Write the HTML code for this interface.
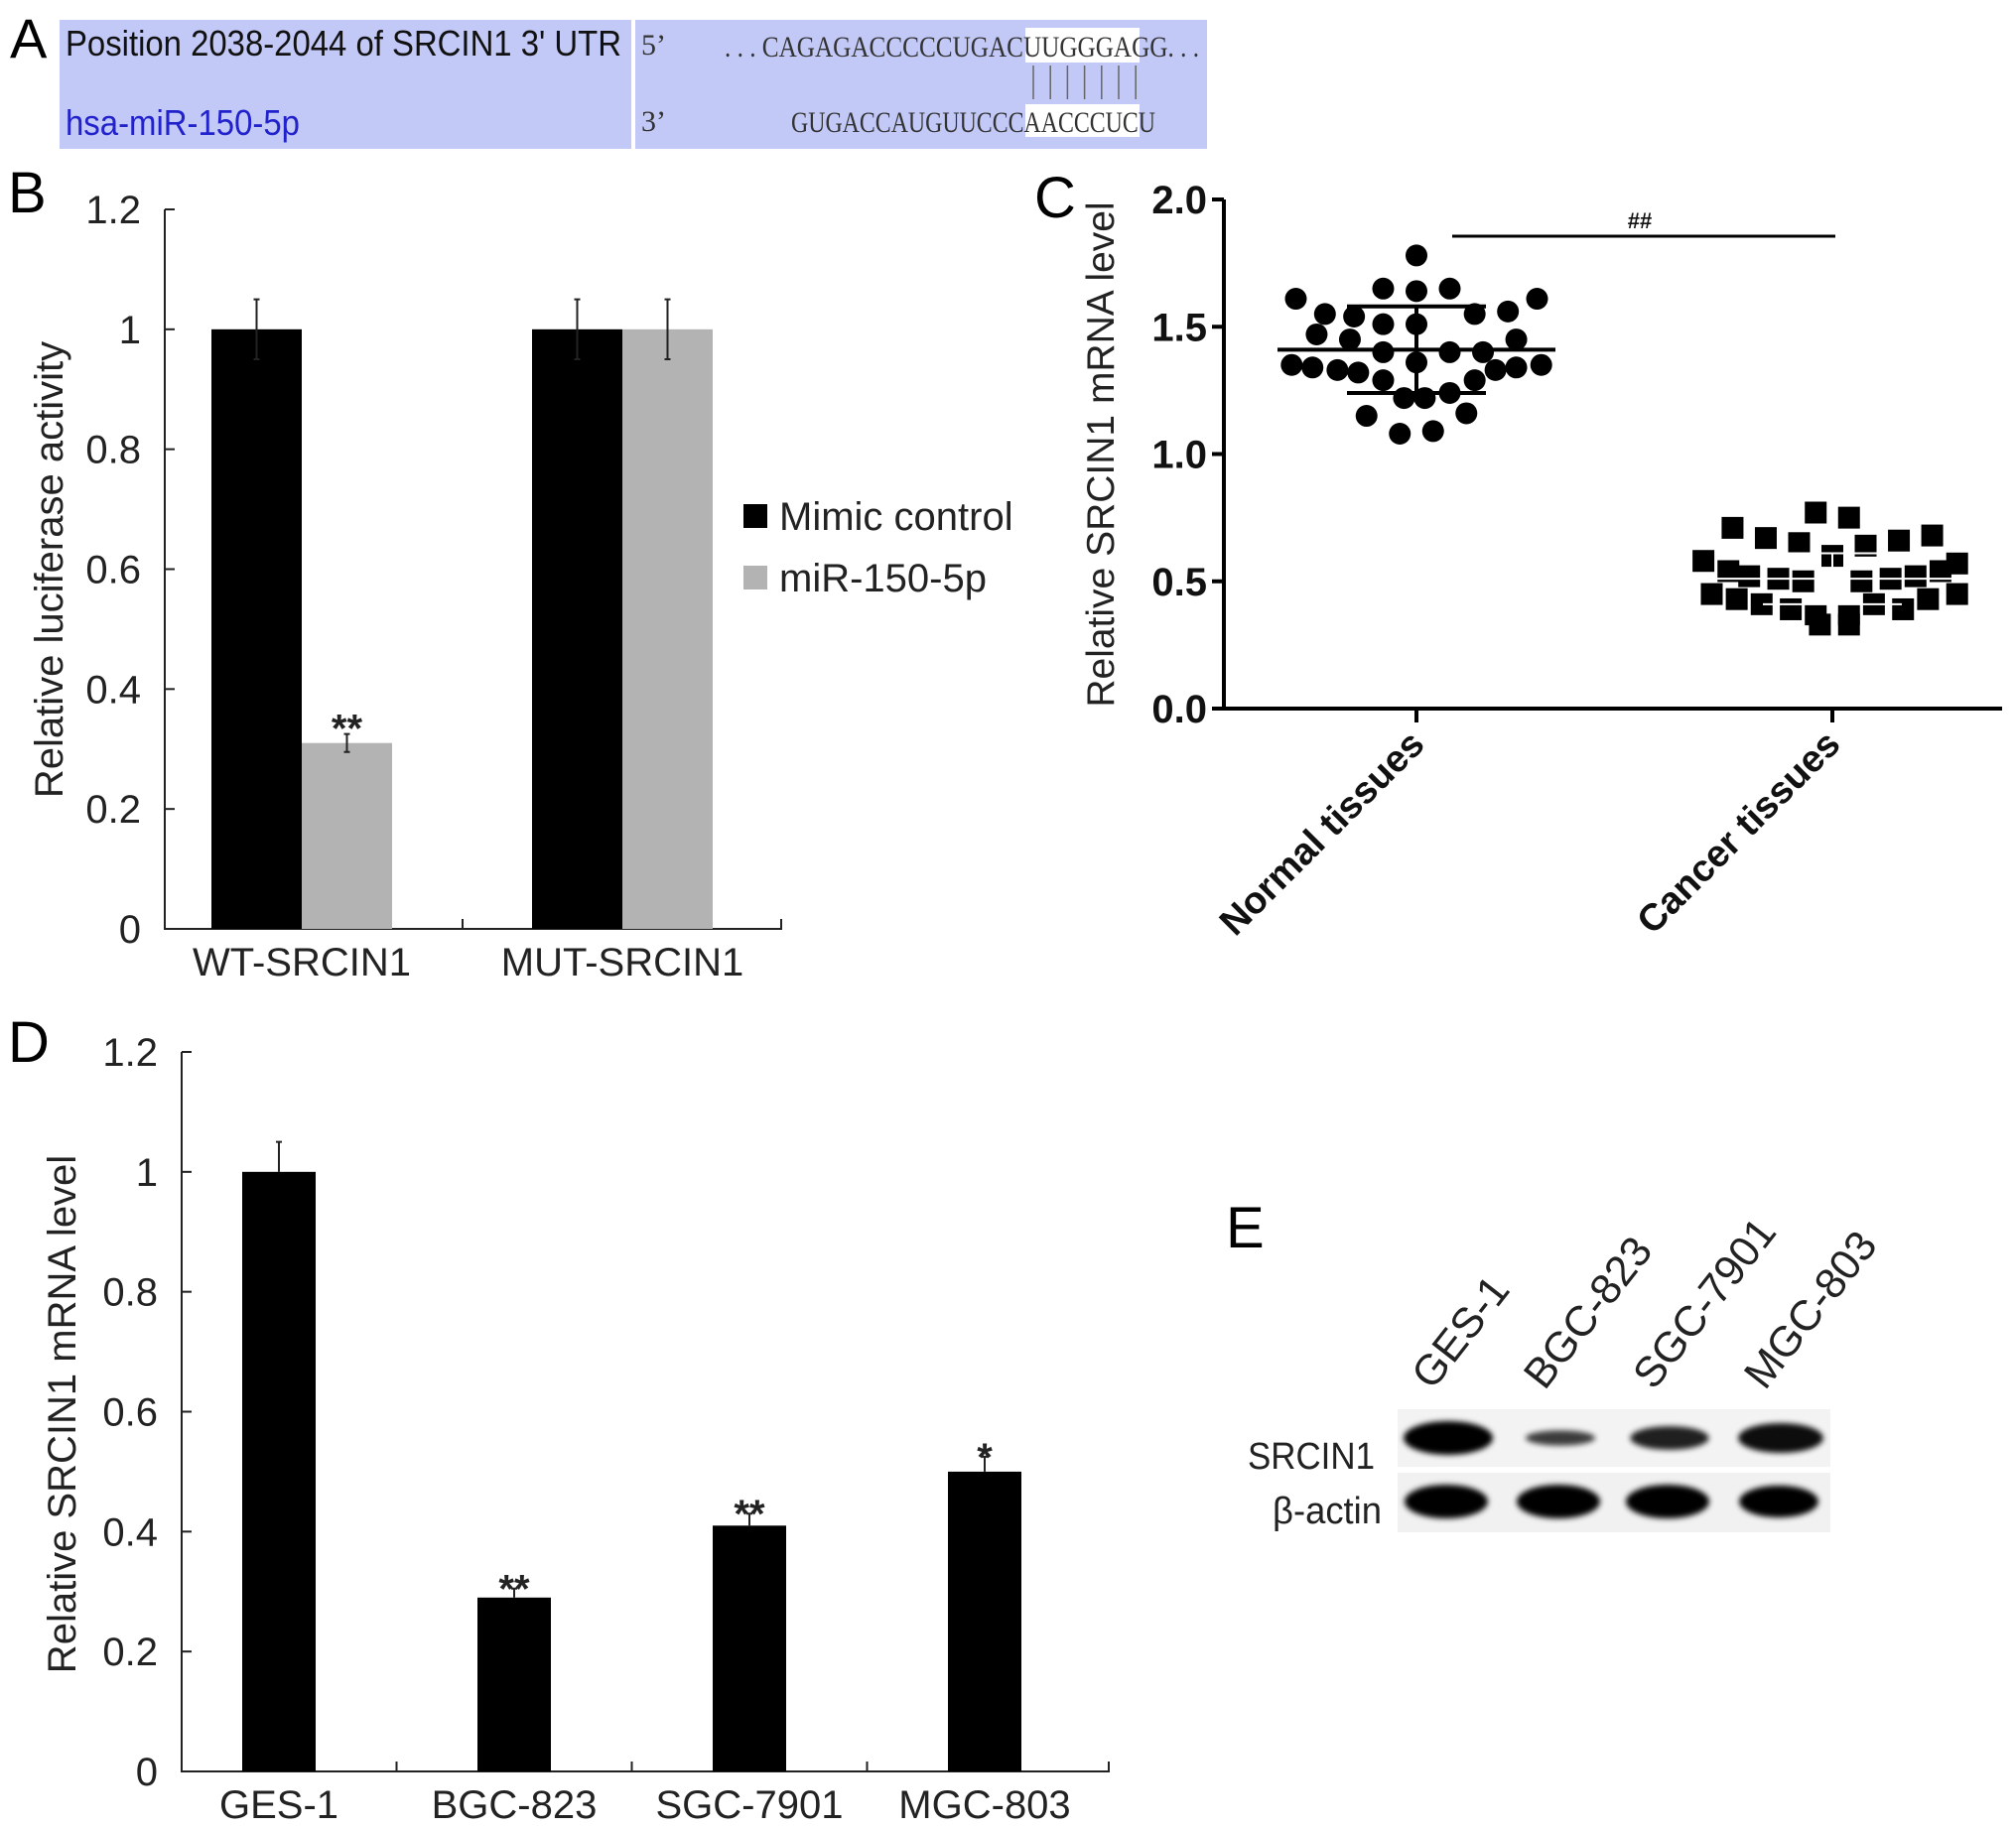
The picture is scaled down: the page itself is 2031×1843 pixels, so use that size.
<!DOCTYPE html>
<html><head><meta charset="utf-8">
<style>
html,body{margin:0;padding:0;background:#fff;}
svg{display:block;font-family:"Liberation Sans",Arial,sans-serif;}
</style></head>
<body>
<svg id="fig" width="2031" height="1843" viewBox="0 0 2031 1843" xmlns="http://www.w3.org/2000/svg">
<!-- Panel A -->
<g>
  <text x="10" y="58" font-size="56">A</text>
  <rect x="60" y="20" width="576" height="130" fill="#c2c9f7"/>
  <rect x="640" y="20" width="576" height="130" fill="#c2c9f7"/>
  <text x="66" y="56" font-size="36" textLength="560" lengthAdjust="spacingAndGlyphs" fill="#111">Position 2038-2044 of SRCIN1 3' UTR</text>
  <text x="66" y="136" font-size="36" textLength="236" lengthAdjust="spacingAndGlyphs" fill="#2222cc">hsa-miR-150-5p</text>
  <rect x="1033" y="28" width="115" height="35" fill="#fff"/>
  <rect x="1033" y="105" width="115" height="33" fill="#fff"/>
  <text x="646" y="55" font-size="30" font-family="Liberation Serif,serif" fill="#333">5’</text>
  <text x="646" y="132" font-size="30" font-family="Liberation Serif,serif" fill="#333">3’</text>
  <text x="730" y="57" font-size="30" font-family="Liberation Serif,serif" textLength="478" lengthAdjust="spacingAndGlyphs" fill="#333">. . . CAGAGACCCCCUGACUUGGGAGG. . .</text>
  <text x="797" y="133" font-size="30" font-family="Liberation Serif,serif" textLength="367" lengthAdjust="spacingAndGlyphs" fill="#333">GUGACCAUGUUCCCAACCCUCU</text>
  <g id="pairs" stroke="#666" stroke-width="1.5"></g>
</g>

<!-- Panel B -->
<g id="panelB">
  <text x="8" y="214" font-size="58">B</text>
  <text transform="translate(63,574) rotate(-90)" text-anchor="middle" font-size="40" fill="#222">Relative luciferase activity</text>
  <rect x="749" y="508" width="24" height="24" fill="#000"/>
  <text x="785" y="534" font-size="40" fill="#222">Mimic control</text>
  <rect x="749" y="570" width="24" height="24" fill="#b3b3b3"/>
  <text x="785" y="596" font-size="40" fill="#222">miR-150-5p</text>
</g>

<!-- Panel C -->
<g id="panelC">
  <text x="1042" y="219" font-size="58">C</text>
  <text transform="translate(1122,458) rotate(-90)" text-anchor="middle" font-size="39" fill="#222">Relative SRCIN1 mRNA level</text>
</g>

<!-- Panel D -->
<g id="panelD">
  <text x="8" y="1070" font-size="58">D</text>
  <text transform="translate(76,1425) rotate(-90)" text-anchor="middle" font-size="40" fill="#222">Relative SRCIN1 mRNA level</text>
</g>

<!-- Panel E -->
<g id="panelE">
  <defs>
    <filter id="blur" x="-30%" y="-60%" width="160%" height="220%"><feGaussianBlur stdDeviation="3"/></filter>
  </defs>
  <text x="1235" y="1257" font-size="58">E</text>
  <rect x="1408" y="1420" width="436" height="58" fill="#f3f3f3"/>
  <rect x="1408" y="1484" width="436" height="60" fill="#f1f1f1"/>
  <text x="1385" y="1480" text-anchor="end" font-size="38" textLength="128" lengthAdjust="spacingAndGlyphs" fill="#222">SRCIN1</text>
  <text x="1392" y="1535" text-anchor="end" font-size="38" textLength="110" lengthAdjust="spacingAndGlyphs" fill="#222">β-actin</text>
</g>
</svg>
<script>
const NS = "http://www.w3.org/2000/svg";
function mk(parent, tag, attrs, txt) {
  const e = document.createElementNS(NS, tag);
  for (const k in attrs) e.setAttribute(k, attrs[k]);
  if (txt !== undefined) e.textContent = txt;
  parent.appendChild(e);
  return e;
}

// ---------- data ----------
const bCategories = ["WT-SRCIN1", "MUT-SRCIN1"];
const bMimic = [1.0, 1.0];
const bMimicErr = [0.05, 0.05];
const bMir = [0.31, 1.0];
const bMirErr = [0.015, 0.05];
const bMirStars = ["**", ""];
const bTicks = [0, 0.2, 0.4, 0.6, 0.8, 1, 1.2];
const bTickLabels = ["0", "0.2", "0.4", "0.6", "0.8", "1", "1.2"];

const cCategories = ["Normal tissues", "Cancer tissues"];
const cNormalValues = [1.78,1.65,1.64,1.65,1.61,1.61,1.55,1.54,1.55,1.56,1.51,1.51,1.47,1.45,1.45,1.40,1.36,1.40,1.40,1.35,1.34,1.33,1.32,1.34,1.33,1.35,1.29,1.29,1.22,1.22,1.24,1.15,1.16,1.08,1.09];
const cNormalJitter = [0,-0.08,0,0.08,-0.29,0.29,-0.22,-0.15,0.14,0.22,-0.08,0,-0.24,-0.16,0.24,-0.08,0,0.08,0.16,-0.30,-0.25,-0.19,-0.14,0.24,0.19,0.30,-0.08,0.14,-0.03,0.02,0.08,-0.12,0.12,-0.04,0.04];
const cNormalMean = 1.41, cNormalSD = 0.17;
const cCancerValues = [0.77,0.75,0.71,0.68,0.67,0.65,0.64,0.66,0.60,0.58,0.57,0.54,0.52,0.51,0.50,0.50,0.51,0.52,0.54,0.45,0.43,0.41,0.39,0.37,0.37,0.39,0.41,0.43,0.45,0.33,0.33];
const cCancerJitter = [-0.04,0.04,-0.24,0.24,-0.16,-0.08,0.08,0.16,0,-0.31,0.30,-0.25,-0.20,-0.13,-0.07,0.07,0.14,0.20,0.26,-0.29,-0.23,-0.17,-0.10,-0.04,0.04,0.17,0.10,0.23,0.30,-0.03,0.04];
const cCancerMean = 0.51, cCancerSD = 0.10;
const cTicks = [0, 0.5, 1.0, 1.5, 2.0];
const cTickLabels = ["0.0", "0.5", "1.0", "1.5", "2.0"];
const cSigLabel = "##";

const dCategories = ["GES-1", "BGC-823", "SGC-7901", "MGC-803"];
const dValues = [1.0, 0.29, 0.41, 0.50];
const dErrors = [0.05, 0.015, 0.02, 0.025];
const dStars = ["", "**", "**", "*"];
const dTicks = [0, 0.2, 0.4, 0.6, 0.8, 1, 1.2];
const dTickLabels = ["0", "0.2", "0.4", "0.6", "0.8", "1", "1.2"];

const eLanes = ["GES-1", "BGC-823", "SGC-7901", "MGC-803"];
const eSrcin1 = [1.0, 0.45, 0.7, 0.88];
const eActin = [1.0, 1.0, 1.0, 0.95];

// ---------- panel A pairing lines ----------
const pairs = document.getElementById("pairs");
for (let i = 0; i < 7; i++) {
  const x = 1041 + i * 17.2;
  const l = mk(pairs, "line", {x1: x, x2: x, y1: 66, y2: 100});
  
  
}

// ---------- panel B ----------
(function () {
  const g = document.getElementById("panelB");
  const x0 = 166, x1 = 787, yTop = 211, yBot = 936;
  const y = v => yBot - (v / 1.2) * (yBot - yTop);
  const groupSpacing = 323;
  const barW = 91;
  const ax = mk(g, "path", {d: `M${x0},${yTop}V${yBot}H${x1}V${yBot-10}`, fill: "none", stroke: "#222", "stroke-width": 2});
  
  
  mk(g, "line", {x1: 466, x2: 466, y1: yBot, y2: yBot - 10, stroke: "#222", "stroke-width": 2});
  bTicks.forEach((t, i) => {
    const tk = mk(g, "line", {x1: x0, x2: x0 + 10, y1: y(t), y2: y(t), stroke: "#222", "stroke-width": 2});
    
    
    const lb = mk(g, "text", {x: x0 - 24, y: y(t) + 14, "text-anchor": "end", "font-size": 40, fill: "#222"}, bTickLabels[i]);
    
    
  });
  bCategories.forEach((c, i) => {
    const cx = x0 + 138 + i * groupSpacing;
    const r1 = mk(g, "rect", {x: cx - barW, y: y(bMimic[i]), width: barW, height: yBot - y(bMimic[i]), fill: "#000"});
    
    
    const r2 = mk(g, "rect", {x: cx, y: y(bMir[i]), width: barW, height: yBot - y(bMir[i]), fill: "#b3b3b3"});
    
    
    [[cx - barW / 2, bMimic[i], bMimicErr[i]], [cx + barW / 2, bMir[i], bMirErr[i]]].forEach(([ex, v, e]) => {
      const eb = mk(g, "path", {d: `M${ex},${y(v)}V${y(v + e)}M${ex - 3},${y(v + e)}H${ex + 3}M${ex},${y(v)}V${y(v - e)}M${ex - 3},${y(v - e)}H${ex + 3}`, stroke: "#222", "stroke-width": 2, fill: "none"});
      
      
    });
    if (bMirStars[i]) {
      const st = mk(g, "text", {x: cx + barW / 2, y: y(bMir[i] + bMirErr[i]) + 8, "text-anchor": "middle", "font-size": 40, "font-weight": "bold", fill: "#222"}, bMirStars[i]);
      
      
    }
    const cl = mk(g, "text", {x: cx, y: yBot + 47, "text-anchor": "middle", "font-size": 40, fill: "#222"}, c);
    
    
  });
})();

// ---------- panel C ----------
(function () {
  const g = document.getElementById("panelC");
  const x0 = 1233, x1 = 2017, yTop = 201, yBot = 714;
  const y = v => yBot - (v / 2.0) * (yBot - yTop);
  const catX = [1427, 1846];
  const spacing = catX[1] - catX[0];
  const ax = mk(g, "path", {d: `M${x0},${yTop}V${yBot}H${x1}`, fill: "none", stroke: "#000", "stroke-width": 4});
  
  
  cTicks.forEach((t, i) => {
    const tk = mk(g, "line", {x1: x0 - 12, x2: x0, y1: y(t), y2: y(t), stroke: "#000", "stroke-width": 4});
    
    
    const lb = mk(g, "text", {x: x0 - 17, y: y(t) + 14, "text-anchor": "end", "font-size": 40, "font-weight": "bold", fill: "#111"}, cTickLabels[i]);
    
    
  });
  cCategories.forEach((c, i) => {
    const tk = mk(g, "line", {x1: catX[i], x2: catX[i], y1: yBot, y2: yBot + 14, stroke: "#000", "stroke-width": 4});
    
    
    const lb = mk(g, "text", {transform: `translate(${catX[i] + 10},${yBot + 38}) rotate(-45)`, "text-anchor": "end", "font-size": 38, "font-weight": "bold", fill: "#111"}, c);
    
    
  });
  cNormalValues.forEach((v, i) => {
    const p = mk(g, "circle", {cx: catX[0] + cNormalJitter[i] * spacing, cy: y(v), r: 11, fill: "#000"});
    
    
  });
  cCancerValues.forEach((v, i) => {
    const p = mk(g, "rect", {x: catX[1] + cCancerJitter[i] * spacing - 11, y: y(v) - 11, width: 22, height: 22, fill: "#000"});
    
    
  });
  [[catX[0], cNormalMean, cNormalSD], [catX[1], cCancerMean, cCancerSD]].forEach(([cx, m, sd], i) => {
    const mw = 140, sw = 70;
    const ml = mk(g, "path", {d: `M${cx - mw},${y(m)}H${cx + mw}M${cx - sw},${y(m + sd)}H${cx + sw}M${cx - sw},${y(m - sd)}H${cx + sw}M${cx},${y(m + sd)}V${y(m - sd)}`, stroke: i ? "#fff" : "#000", "stroke-width": i ? 2 : 4, fill: "none"});
    
    
  });
  const sig = mk(g, "line", {x1: 1463, x2: 1849, y1: 238, y2: 238, stroke: "#000", "stroke-width": 3});
  
  
  const sl = mk(g, "text", {x: 1652, y: 230, "text-anchor": "middle", "font-size": 22, "font-weight": "bold", fill: "#111"}, cSigLabel);
  
  
})();

// ---------- panel D ----------
(function () {
  const g = document.getElementById("panelD");
  const x0 = 183, x1 = 1117, yTop = 1060, yBot = 1785;
  const y = v => yBot - (v / 1.2) * (yBot - yTop);
  const catW = 237;
  const barW = 74;
  const ax = mk(g, "path", {d: `M${x0},${yTop}V${yBot}H${x1}V${yBot-10}`, fill: "none", stroke: "#222", "stroke-width": 2});
  
  
  for (let i = 1; i < dCategories.length; i++) {
    mk(g, "line", {x1: x0 + 98 + catW * (i - 0.5), x2: x0 + 98 + catW * (i - 0.5), y1: yBot, y2: yBot - 10, stroke: "#222", "stroke-width": 2});
  }
  dTicks.forEach((t, i) => {
    const tk = mk(g, "line", {x1: x0, x2: x0 + 10, y1: y(t), y2: y(t), stroke: "#222", "stroke-width": 2});
    
    
    const lb = mk(g, "text", {x: x0 - 24, y: y(t) + 14, "text-anchor": "end", "font-size": 40, fill: "#222"}, dTickLabels[i]);
    
    
  });
  dCategories.forEach((c, i) => {
    const cx = x0 + 98 + catW * i;
    const r = mk(g, "rect", {x: cx - barW / 2, y: y(dValues[i]), width: barW, height: yBot - y(dValues[i]), fill: "#000"});
    
    
    const ey = y(dValues[i] + dErrors[i]);
    const eb = mk(g, "path", {d: `M${cx},${y(dValues[i])}V${ey}M${cx - 3},${ey}H${cx + 3}`, stroke: "#222", "stroke-width": 2, fill: "none"});
    
    
    if (dStars[i]) {
      const st = mk(g, "text", {x: cx, y: ey + 14, "text-anchor": "middle", "font-size": 40, "font-weight": "bold", fill: "#222"}, dStars[i]);
      
      
    }
    const cl = mk(g, "text", {x: cx, y: yBot + 47, "text-anchor": "middle", "font-size": 40, fill: "#222"}, c);
    
    
  });
})();

// ---------- panel E ----------
(function () {
  const g = document.getElementById("panelE");
  const laneX = [1459, 1572, 1682, 1794];
  eLanes.forEach((lane, i) => {
    const s = eSrcin1[i];
    const b1 = mk(g, "ellipse", {cx: laneX[i], cy: 1449, rx: 45 * (0.6 + 0.4 * s), ry: 17 * s, fill: "#000", opacity: 0.55 + 0.45 * s, filter: "url(#blur)"});
    
    
    const a = eActin[i];
    const b2 = mk(g, "ellipse", {cx: laneX[i] - 2, cy: 1513, rx: 42 * a, ry: 17 * a, fill: "#000", filter: "url(#blur)"});
    
    
    const lb = mk(g, "text", {transform: `translate(${laneX[i] - 16},${1402}) rotate(-52)`, "font-size": 43, fill: "#222"}, lane);
    
    
  });
})();
</script>
</body></html>
